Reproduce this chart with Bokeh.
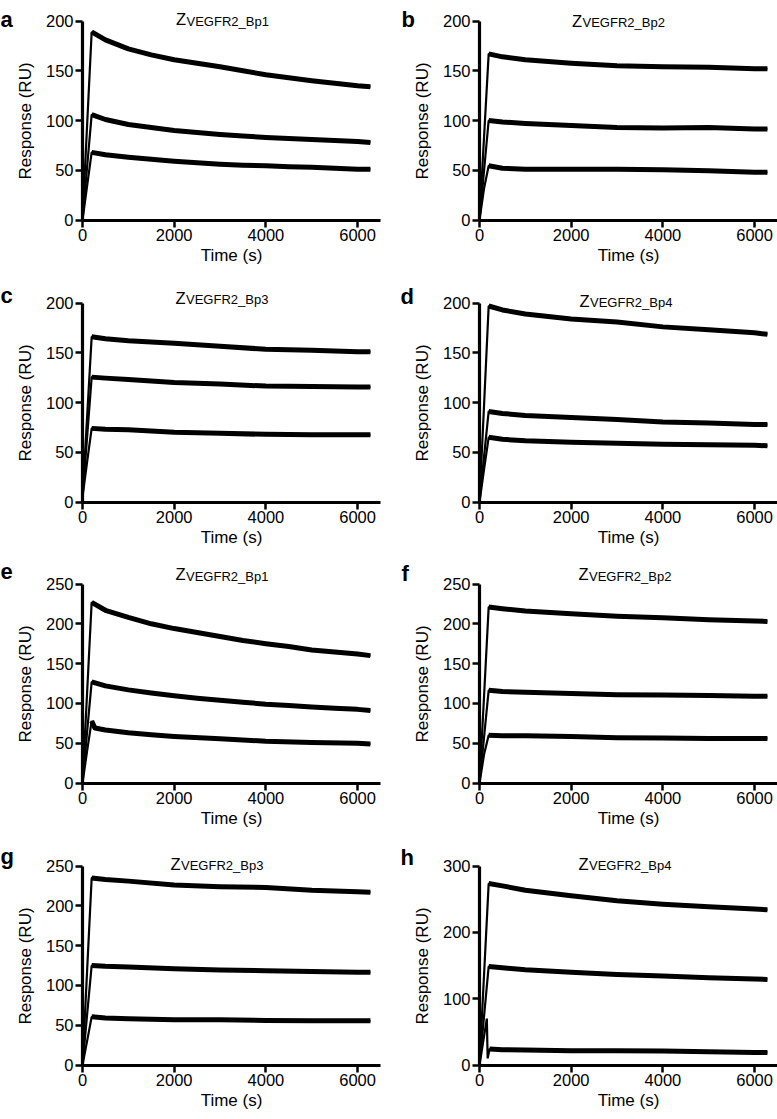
from bokeh.plotting import figure
from bokeh.models import Label, Range1d, FixedTicker, LinearAxis
from bokeh.layouts import gridplot
from bokeh.embed import file_html
from bokeh.resources import INLINE

# ---------------- data ----------------
X_TICKS = [0, 2000, 4000, 6000]
X_MAX = 6500
Y_TICKS_200 = [0, 50, 100, 150, 200]
Y_TICKS_250 = [0, 50, 100, 150, 200, 250]
Y_TICKS_300 = [0, 100, 200, 300]

LETTERS = ["a", "b", "c", "d", "e", "f", "g", "h"]
SUBSCRIPTS = ["VEGFR2_Bp1", "VEGFR2_Bp2", "VEGFR2_Bp3", "VEGFR2_Bp4",
              "VEGFR2_Bp1", "VEGFR2_Bp2", "VEGFR2_Bp3", "VEGFR2_Bp4"]
Y_MAX = [200, 200, 200, 200, 250, 250, 250, 300]

# time points (s)
T_STD = [0, 100, 200, 500, 1000, 2000, 3000, 4000, 5000, 6000, 6280]
T_FINE = [0, 100, 200, 500, 1000, 1500, 2000, 2500, 3000, 3500, 4000, 4500, 5000, 5500, 6000, 6280]
T_E_LOW = [0, 100, 200, 270, 500, 1000, 1500, 2000, 3000, 4000, 5000, 6000, 6280]
T_H_LOW = [0, 160, 178, 220, 500, 1000, 2000, 3000, 4000, 5000, 6000, 6280]

# responses (RU)
A_HI = [0, 95, 189, 181, 172, 166, 161, 157.5, 154, 150, 146, 143, 140, 137.5, 135, 134]
A_MID = [0, 53, 106, 101, 96, 93, 90, 88, 86, 84.5, 83, 82, 81, 80, 79, 78]
A_LOW = [0, 34, 68, 65.5, 63, 61, 59, 57.5, 56, 55, 54.5, 53.5, 53, 52, 51, 51]

B_HI = [0, 84, 167, 164, 161, 157.5, 155, 154, 153.5, 152, 152]
B_MID = [0, 50, 100, 98.5, 97, 95, 93, 92.5, 93, 91.5, 91.5]
B_LOW = [0, 32, 54.5, 52, 51, 51, 51, 50.5, 49.5, 48, 48]

C_HI = [5, 85, 166, 164, 162, 159.5, 156.5, 153.5, 152.5, 151, 151]
C_MID = [5, 65, 125.5, 124.5, 123, 120, 118.5, 116.5, 116, 115.5, 115.5]
C_LOW = [5, 40, 74, 73, 72.5, 70, 69, 68, 67.5, 67.5, 67.5]

D_HI = [0, 98, 197, 193, 189, 184, 181, 176, 173, 170, 168.5]
D_MID = [0, 46, 91, 89, 87, 85, 83, 80.5, 79.5, 78, 78]
D_LOW = [0, 33, 65, 63, 61.5, 60, 59, 58, 57.5, 57, 56.5]

E_HI = [0, 113, 227, 217, 208, 200, 194, 189, 184, 179, 175, 171.5, 167, 164.5, 162, 160]
E_MID = [0, 64, 127, 122, 117, 113, 109.5, 106.5, 104, 101.5, 99, 97.5, 95.5, 94, 92.5, 91]
E_LOW = [0, 40, 78, 69, 66.5, 63, 60.5, 58.5, 55.5, 52.5, 51, 50, 49]

F_HI = [0, 110, 221, 219, 216, 212.5, 209.5, 207.5, 205, 203.5, 203]
F_MID = [0, 58, 116.5, 115, 114, 112.5, 111, 110.5, 110, 109, 109]
F_LOW = [0, 36, 60, 59.5, 59.5, 58.5, 57, 56.5, 56, 56, 56]

G_HI = [0, 118, 235, 233, 231, 226, 224, 223, 219.5, 217.5, 217]
G_MID = [0, 63, 125, 124, 123, 121, 119.5, 118.5, 117.5, 116.5, 116.5]
G_LOW = [0, 30, 60.5, 59, 58, 57, 57, 56, 55.5, 55.5, 55.5]

H_HI = [0, 137, 273.5, 270, 263.5, 255, 247.5, 242.5, 238.5, 235, 234]
H_MID = [0, 74, 148.5, 146.5, 143.5, 140, 136.5, 134, 131.5, 129.5, 129]
H_LOW = [0, 70, 10, 24, 23, 22.5, 21.5, 21.5, 21, 20, 19, 19]

CURVES = [
    [(T_FINE, A_HI), (T_FINE, A_MID), (T_FINE, A_LOW)],
    [(T_STD, B_HI), (T_STD, B_MID), (T_STD, B_LOW)],
    [(T_STD, C_HI), (T_STD, C_MID), (T_STD, C_LOW)],
    [(T_STD, D_HI), (T_STD, D_MID), (T_STD, D_LOW)],
    [(T_FINE, E_HI), (T_FINE, E_MID), (T_E_LOW, E_LOW)],
    [(T_STD, F_HI), (T_STD, F_MID), (T_STD, F_LOW)],
    [(T_STD, G_HI), (T_STD, G_MID), (T_STD, G_LOW)],
    [(T_STD, H_HI), (T_STD, H_MID), (T_H_LOW, H_LOW)],
]

# ---------------- layout / style (pixels) ----------------
FONT = "Liberation Sans"
COL_LEFT = [0, 397]
COL_W = [397, 380]
ROW_TOP = [0, 282, 552, 838]
ROW_H = [282, 270, 286, 281]
DATA_TOP = [20.5, 302.5, 583.5, 865.5]   # page y of the y-axis maximum in each row
AX_X0 = 82        # px from figure left to t = 0
AX_W = 298        # px spanned by 0..X_MAX
AX_H = 199        # px spanned by 0..y max

# page positions of panel letters and titles (left x, baseline y)
LETTER_XY = [(0, 18.5), (401, 18.5), (0, 295), (400, 296),
             (0, 571), (401, 573), (0, 856), (400, 856.5)]
TITLE_XY = [(175.5, 18.5), (571.5, 20), (175, 297), (579, 300),
            (175, 573.5), (578, 573.5), (170, 863), (578, 863)]


def yticks_for(ymax):
    return {200: Y_TICKS_200, 250: Y_TICKS_250, 300: Y_TICKS_300}[ymax]


def make_panel(i):
    row, col = divmod(i, 2)
    W, H = COL_W[col], ROW_H[row]
    ymax = Y_MAX[i]
    top = DATA_TOP[row] - ROW_TOP[row]
    xpp = X_MAX / AX_W
    ypp = ymax / AX_H
    p = figure(
        width=W, height=H,
        x_range=Range1d(-AX_X0 * xpp, (W - AX_X0) * xpp),
        y_range=Range1d(-(H - top - AX_H) * ypp, ymax + top * ypp),
        x_axis_type=None, y_axis_type=None,
        output_backend="svg", toolbar_location=None, title=None,
        min_border=0, min_border_left=0, min_border_right=0,
        min_border_top=0, min_border_bottom=0,
        background_fill_color="white", border_fill_color="white",
    )
    p.outline_line_color = None

    xaxis = LinearAxis(fixed_location=0, bounds=(0, X_MAX),
                       ticker=FixedTicker(ticks=X_TICKS, minor_ticks=[]),
                       axis_label="Time (s)")
    yaxis = LinearAxis(fixed_location=0, bounds=(0, ymax),
                       ticker=FixedTicker(ticks=yticks_for(ymax), minor_ticks=[]),
                       axis_label="Response (RU)")
    for ax in (xaxis, yaxis):
        ax.axis_line_width = 3.2
        ax.axis_line_color = "black"
        ax.major_tick_line_width = 2.5
        ax.major_tick_line_color = "black"
        ax.major_tick_out = 7
        ax.major_tick_in = 0
        ax.minor_tick_line_color = None
        ax.major_label_text_font = FONT
        ax.major_label_text_font_size = "16.5px"
        ax.major_label_text_color = "black"
        ax.axis_label_text_font = FONT
        ax.axis_label_text_font_size = "17px"
        ax.axis_label_text_font_style = "normal"
        ax.axis_label_text_color = "black"
        ax.major_label_standoff = 2
    xaxis.axis_label_standoff = 1
    yaxis.axis_label_standoff = 8
    p.add_layout(xaxis, "below")
    p.add_layout(yaxis, "left")

    for t, v in CURVES[i]:
        p.line(t, v, line_color="black", line_width=2.2)
        idx = [k for k, tt in enumerate(t) if tt >= 200]
        p.line([t[k] for k in idx], [v[k] for k in idx], line_color="black",
               line_width=5, line_join="round")

    def sx(px):
        return px - COL_LEFT[col]

    def sy(py):
        return H - (py - ROW_TOP[row])

    lx, ly = LETTER_XY[i]
    tx, ty = TITLE_XY[i]
    p.add_layout(Label(x=sx(lx), y=sy(ly), x_units="screen", y_units="screen",
                       text=LETTERS[i], text_font=FONT, text_font_size="22px",
                       text_font_style="bold", text_color="black", text_baseline="alphabetic"))
    p.add_layout(Label(x=sx(tx), y=sy(ty), x_units="screen", y_units="screen",
                       text="Z", text_font=FONT, text_font_size="16.5px",
                       text_color="black", text_baseline="alphabetic"))
    p.add_layout(Label(x=sx(tx) + 10.5, y=sy(ty) - 2, x_units="screen", y_units="screen",
                       text=SUBSCRIPTS[i], text_font=FONT, text_font_size="13px",
                       text_color="black", text_baseline="alphabetic"))
    return p


figs = [make_panel(i) for i in range(8)]
grid = gridplot([[figs[0], figs[1]], [figs[2], figs[3]], [figs[4], figs[5]], [figs[6], figs[7]]],
                toolbar_location=None)

open("out.html", "w").write(file_html(grid, INLINE))
